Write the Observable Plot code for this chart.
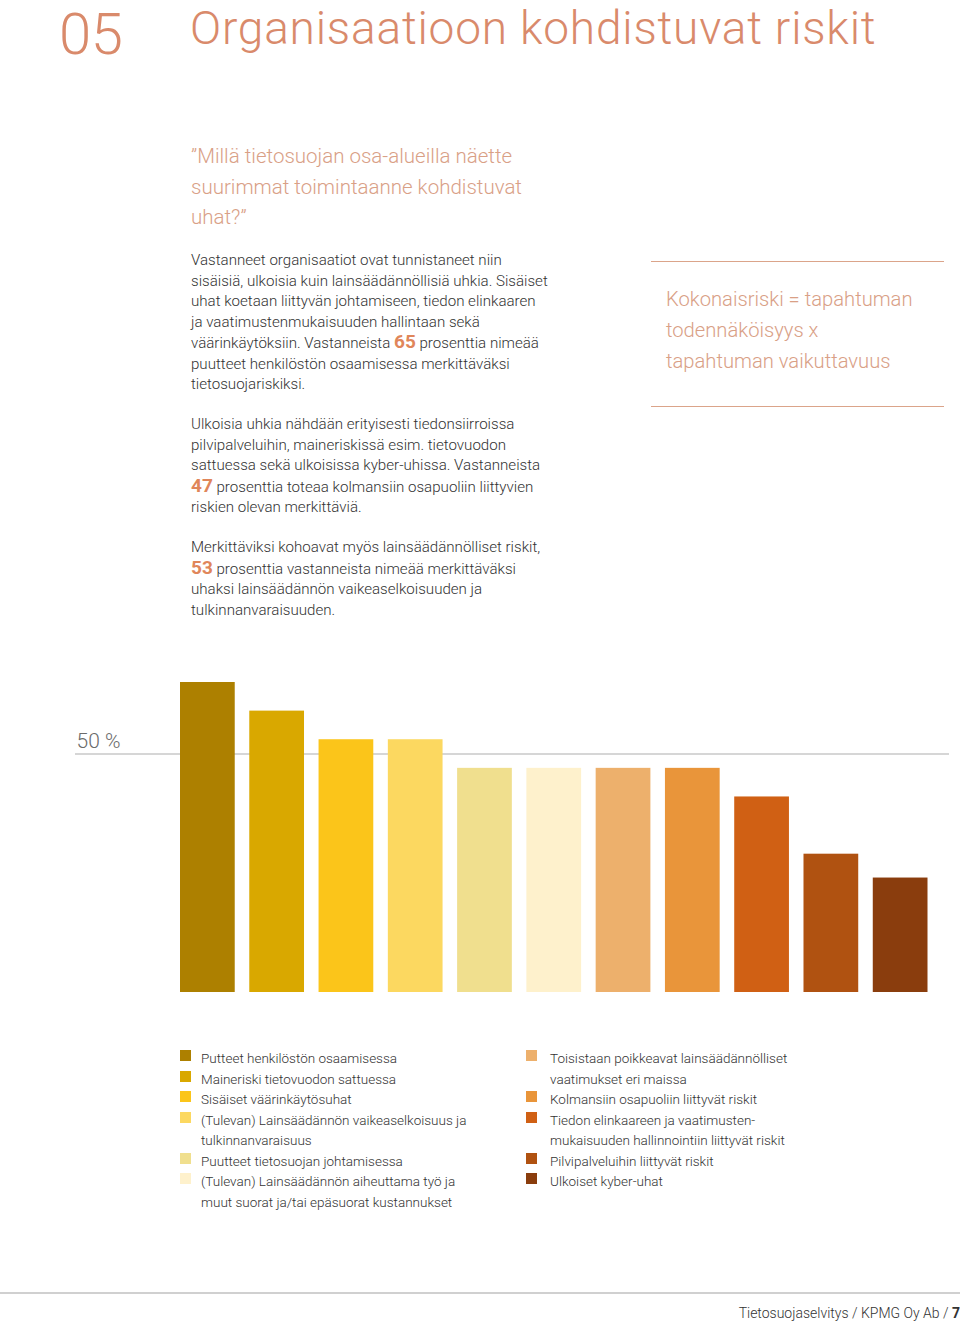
<!DOCTYPE html>
<html lang="fi">
<head>
<meta charset="utf-8">
<script src="https://cdn.jsdelivr.net/npm/d3@7"></script>
<script src="https://cdn.jsdelivr.net/npm/@observablehq/plot@0.6"></script>
<style>
  html, body { margin: 0; padding: 0; background: #fff; }
  #page { position: relative; width: 960px; height: 1324px; overflow: hidden; font-family: Roboto, "Liberation Sans", sans-serif; font-weight: 300; color: #333; }
  .abs { position: absolute; white-space: nowrap; }
  #num { left: 59px; top: 5px; font-size: 58px; line-height: 58px; color: #d98a6b; letter-spacing: -0.5px; }
  #title { left: 190px; top: 5px; font-size: 46px; line-height: 46px; color: #d98a6b; letter-spacing: 0.8px; }
  #quote { left: 191px; top: 141px; font-size: 20.5px; line-height: 30.5px; color: #d9a086; }
  .body { left: 191px; font-size: 15.1px; line-height: 20.5px; color: #333; }
  .big { color: #e0865a; font-weight: 700; font-size: 19px; }
  #box { left: 651px; top: 261px; width: 293px; height: 144px; border-top: 1.5px solid #dba48a; border-bottom: 1.5px solid #dba48a; }
  #boxtext { left: 666px; top: 284px; font-size: 20.2px; line-height: 31px; color: #d9a086; }
  #chart { position: absolute; left: 0; top: 660px; }
  .legend { position: absolute; top: 1048px; font-size: 13.5px; line-height: 20.5px; color: #333; }
  .legend .item { position: relative; }
  .legend .sw { position: absolute; left: 0; top: 2px; width: 11px; height: 11px; }
  #footline { position: absolute; left: 0; top: 1292px; width: 960px; height: 1.5px; background: #d0d0d0; }
  #footer { right: 0px; top: 1305px; font-size: 14px; color: #333; }
</style>
</head>
<body>
<div id="page">
  <div id="num" class="abs">05</div>
  <div id="title" class="abs">Organisaatioon kohdistuvat riskit</div>
  <div id="quote" class="abs">”Millä tietosuojan osa-alueilla näette<br>suurimmat toimintaanne kohdistuvat<br>uhat?”</div>
  <div class="abs body" style="top:250px">Vastanneet organisaatiot ovat tunnistaneet niin<br>sisäisiä, ulkoisia kuin lainsäädännöllisiä uhkia. Sisäiset<br>uhat koetaan liittyvän johtamiseen, tiedon elinkaaren<br>ja vaatimustenmukaisuuden hallintaan sekä<br>väärinkäytöksiin. Vastanneista <span class="big">65</span> prosenttia nimeää<br>puutteet henkilöstön osaamisessa merkittäväksi<br>tietosuojariskiksi.</div>
  <div class="abs body" style="top:414px">Ulkoisia uhkia nähdään erityisesti tiedonsiirroissa<br>pilvipalveluihin, maineriskissä esim. tietovuodon<br>sattuessa sekä ulkoisissa kyber-uhissa. Vastanneista<br><span class="big">47</span> prosenttia toteaa kolmansiin osapuoliin liittyvien<br>riskien olevan merkittäviä.</div>
  <div class="abs body" style="top:537px">Merkittäviksi kohoavat myös lainsäädännölliset riskit,<br><span class="big">53</span> prosenttia vastanneista nimeää merkittäväksi<br>uhaksi lainsäädännön vaikeaselkoisuuden ja<br>tulkinnanvaraisuuden.</div>
  <div id="box" class="abs"></div>
  <div id="boxtext" class="abs">Kokonaisriski = tapahtuman<br>todennäköisyys x<br>tapahtuman vaikuttavuus</div>
  <div id="chart"></div>
  <div id="legLeft" class="legend" style="left:180px; width:292px;"></div>
  <div id="legRight" class="legend" style="left:526px; width:272px;"></div>
  <div id="footline"></div>
  <div id="footer" class="abs">Tietosuojaselvitys / KPMG Oy Ab / <b style="font-weight:700">7</b></div>
</div>
<script>
const categories = [
  "Putteet henkilöstön osaamisessa",
  "Maineriski tietovuodon sattuessa",
  "Sisäiset väärinkäytösuhat",
  "(Tulevan) Lainsäädännön vaikeaselkoisuus ja tulkinnanvaraisuus",
  "Puutteet tietosuojan johtamisessa",
  "(Tulevan) Lainsäädännön aiheuttama työ ja muut suorat ja/tai epäsuorat kustannukset",
  "Toisistaan poikkeavat lainsäädännölliset vaatimukset eri maissa",
  "Kolmansiin osapuoliin liittyvät riskit",
  "Tiedon elinkaareen ja vaatimusten\u00ADmukaisuuden hallinnointiin liittyvät riskit",
  "Pilvipalveluihin liittyvät riskit",
  "Ulkoiset kyber-uhat"
];
const values = [65, 59, 53, 53, 47, 47, 47, 47, 41, 29, 24];
const colors = ["#ad8000", "#d9a800", "#fbc51a", "#fcd860", "#f0df8e", "#fef1cc", "#edb06c", "#e9953a", "#d06014", "#b05211", "#8a3d0d"];
const gridTicks = [50];

const data = categories.map((c, i) => ({category: c, value: values[i]}));

const chart = Plot.plot({
  width: 960,
  height: 340,
  marginLeft: 75,
  marginRight: 11,
  marginTop: 22,
  marginBottom: 8,
  x: {domain: categories, range: [180, 927.5], paddingInner: 0.21, paddingOuter: 0, round: false, axis: null},
  y: {domain: [0, 65], axis: null},
  color: {domain: categories, range: colors},
  style: {fontFamily: "Roboto, 'Liberation Sans', sans-serif", fontWeight: 300, background: "transparent"},
  marks: [
    Plot.ruleY(gridTicks, {stroke: "#c9c9c9", strokeWidth: 1.5}),
    Plot.barY(data, {x: "category", y: "value", fill: "category"}),
    Plot.text(gridTicks, {y: d => d, frameAnchor: "left", text: d => `${d} %`, textAnchor: "start", dx: 1, dy: -13, fontSize: 21, fill: "#6b6b6b"})
  ]
});
document.getElementById("chart").appendChild(chart);

function legend(el, idx, pad) {
  const root = document.getElementById(el);
  idx.forEach(i => {
    const item = document.createElement("div");
    item.className = "item";
    item.style.paddingLeft = pad + "px";
    const sw = document.createElement("span");
    sw.className = "sw";
    sw.style.background = colors[i];
    item.appendChild(sw);
    item.appendChild(document.createTextNode(categories[i]));
    root.appendChild(item);
  });
}
legend("legLeft", [0, 1, 2, 3, 4, 5], 21);
legend("legRight", [6, 7, 8, 9, 10], 24);
</script>
</body>
</html>
